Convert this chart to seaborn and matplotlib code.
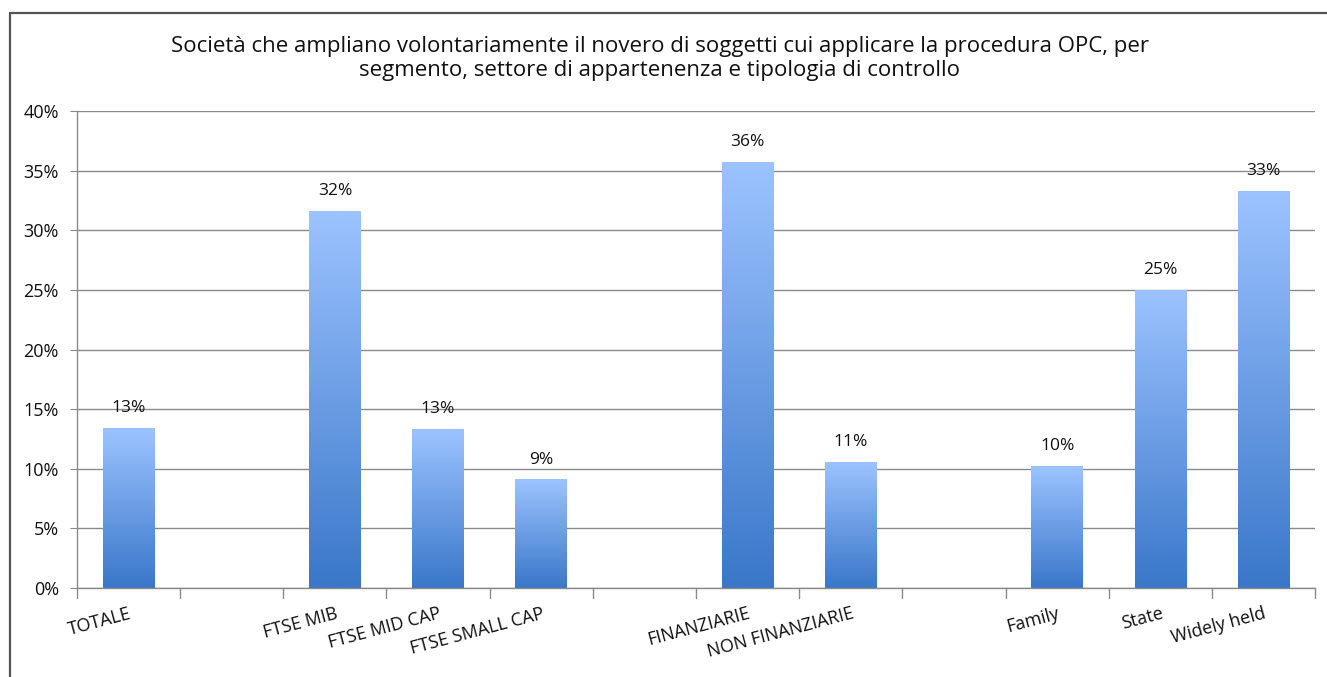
import numpy as np
import pandas as pd
import matplotlib
matplotlib.use("Agg")
import matplotlib.pyplot as plt
import seaborn as sns
from matplotlib.colors import LinearSegmentedColormap
from matplotlib.lines import Line2D

# Data (blank slots separate the groups)
categories = ["TOTALE", "FTSE MIB", "FTSE MID CAP", "FTSE SMALL CAP",
              "FINANZIARIE", "NON FINANZIARIE", "Family", "State", "Widely held"]
values = [13.4, 31.6, 13.3, 9.1, 35.7, 10.6, 10.2, 25.0, 33.3]
value_labels = ["13%", "32%", "13%", "9%", "36%", "11%", "10%", "25%", "33%"]
slot_order = ["TOTALE", "gap1", "FTSE MIB", "FTSE MID CAP", "FTSE SMALL CAP", "gap2",
              "FINANZIARIE", "NON FINANZIARIE", "gap3", "Family", "State", "Widely held"]
tick_labels = ["TOTALE", "", "FTSE MIB", "FTSE MID CAP", "FTSE SMALL CAP", "",
               "FINANZIARIE", "NON FINANZIARIE", "", "Family", "State", "Widely held"]
y_ticks = [0, 5, 10, 15, 20, 25, 30, 35, 40]

title = ("Società che ampliano volontariamente il novero di soggetti cui applicare la procedura OPC, per\n"
         "segmento, settore di appartenenza e tipologia di controllo")

df = pd.DataFrame({"categoria": categories, "valore": values})

sns.set_style("white")
plt.rcParams["font.family"] = ["Open Sans", "DejaVu Sans"]

fig = plt.figure(figsize=(13.27, 6.77), dpi=100)
ax = fig.add_axes([0.058, 0.1315, 0.933, 0.7045])

sns.barplot(data=df, x="categoria", y="valore", order=slot_order, width=0.5,
            color="#6fa0e8", ax=ax, zorder=2)

# gradient fill for each bar: light on top, darker at the base
grad = LinearSegmentedColormap.from_list("blu", ["#3a77c9", "#9cc3ff"])
g = np.linspace(0, 1, 256).reshape(-1, 1)
for bar in ax.patches:
    x0, w, h = bar.get_x(), bar.get_width(), bar.get_height()
    if not np.isfinite(h) or h <= 0:
        continue
    bar.set_facecolor("none")
    bar.set_edgecolor("none")
    im = ax.imshow(g, cmap=grad, origin="lower", aspect="auto",
                   extent=[x0, x0 + w, 0, h], zorder=2)
    im.set_clip_path(bar)

ax.set_xlim(-0.5, len(slot_order) - 0.5)
ax.set_ylim(0, 40)
ax.set_yticks(y_ticks)
ax.set_yticklabels([f"{t}%" for t in y_ticks], fontsize=13, color="#111111")
ax.yaxis.grid(True, color="#8a8a8a", linewidth=1)
ax.set_axisbelow(True)
ax.set_xlabel("")
ax.set_ylabel("")

# category labels, rotated and ending under the bar centre
ax.set_xticks(range(len(slot_order)))
ax.set_xticklabels(tick_labels, rotation=15, ha="right", rotation_mode="anchor",
                   fontsize=13, color="#111111")
ax.tick_params(axis="x", length=0, pad=12)
ax.tick_params(axis="y", length=5, color="#8a8a8a", pad=8, left=True)

# boundary tick marks between slots
for b in np.arange(-0.5, len(slot_order), 1.0):
    ax.add_line(Line2D([b, b], [0, -0.8], color="#8a8a8a", lw=1, clip_on=False))

for s in ["top", "right"]:
    ax.spines[s].set_visible(False)
for s in ["left", "bottom"]:
    ax.spines[s].set_color("#8a8a8a")
    ax.spines[s].set_linewidth(1)

# value labels
for cat, v, lab in zip(categories, values, value_labels):
    ax.text(slot_order.index(cat), v + 1.0, lab, ha="center", va="bottom", fontsize=12.5, color="#111111")

fig.text(0.497, 0.913, title, ha="center", va="center", fontsize=16, color="#111111", linespacing=1.2)

# outer chart frame (left and top edges)
fig.add_artist(Line2D([10 / 1327, 10 / 1327], [0, 1 - 13 / 677], transform=fig.transFigure,
                      color="#555555", lw=1.6))
fig.add_artist(Line2D([10 / 1327, 1], [1 - 13 / 677, 1 - 13 / 677], transform=fig.transFigure,
                      color="#555555", lw=1.6))

fig.savefig("out.png", dpi=100)
